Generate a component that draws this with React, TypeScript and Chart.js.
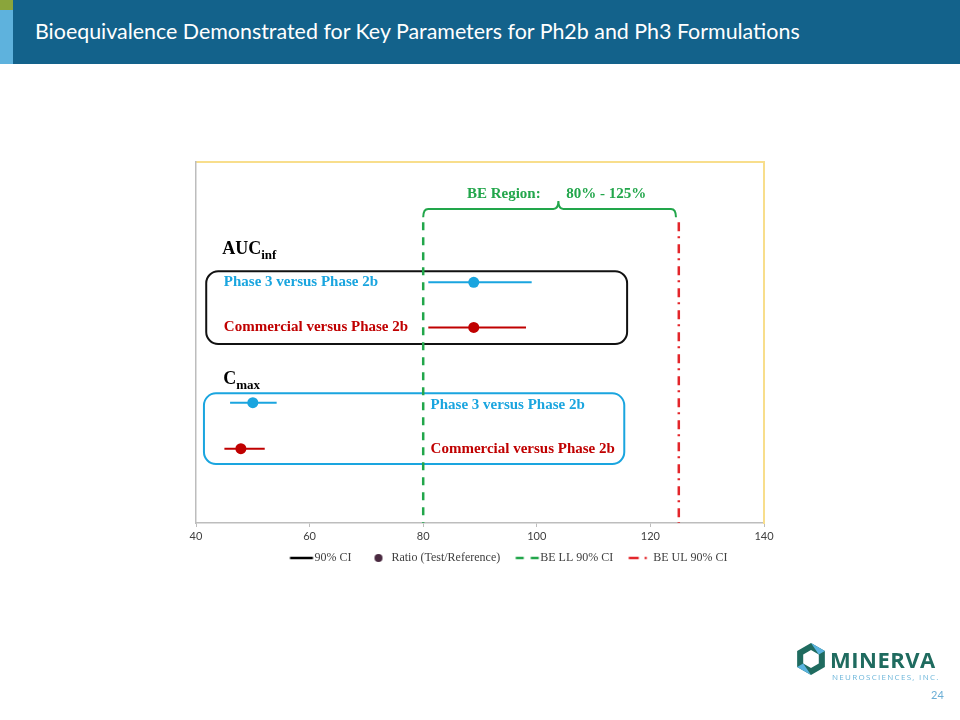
import React, { useEffect, useLayoutEffect, useRef } from 'react';
import { Chart, registerables } from 'chart.js';

Chart.register(...registerables);

// ---------- data ----------
const X_TICKS = [40, 60, 80, 100, 120, 140];
const ROW_NAMES = [
  'Phase 3 versus Phase 2b',
  'Commercial versus Phase 2b',
  'Phase 3 versus Phase 2b',
  'Commercial versus Phase 2b',
];
const ROW_Y = [8, 6.5, 4, 2.47];
const RATIO = [88.9, 88.9, 50.0, 47.9];
const CI_LOW = [80.9, 80.9, 46.0, 45.0];
const CI_HIGH = [99.1, 98.1, 54.2, 52.1];
const BE_LL = 80;
const BE_UL = 125;
const LEGEND_LABELS = ['90% CI', 'Ratio (Test/Reference)', 'BE LL 90% CI', 'BE UL 90% CI'];
const GROUP_TITLES = [
  { main: 'AUC', sub: 'inf' },
  { main: 'C', sub: 'max' },
];

// ---------- styling / annotation placement ----------
const BLUE = '#1aa5df';
const DARK_RED = '#c00000';
const GREEN = '#22a64b';
const RED_LINE = '#e3262b';
const AXIS_GREY = '#bdbdbd';
const YELLOW = '#f8de8c';
const SERIF = '"Liberation Serif", "Times New Roman", serif';
const ROW_COLORS = [BLUE, DARK_RED, BLUE, DARK_RED];
const ROW_LABEL_X = [44.9, 44.9, 81.3, 81.3];
const ROW_LABEL_DY = [0, 0, -0.08, -0.03];
const BE_TOP = 10;
const GROUP_TITLE_POS = [
  { x: 44.6, y: 8.94 },
  { x: 44.8, y: 4.62 },
];
const BOXES = [
  { x0: 41.8, x1: 115.9, y0: 8.37, y1: 5.95, color: '#111111' },
  { x0: 41.4, x1: 115.4, y0: 4.31, y1: 1.96, color: BLUE },
];

// legend icon canvas: wide transparent canvas, mark drawn offset to the right
const ICON_W = 38;
const ICON_MARK_CX = 25; // mark centre inside icon canvas

function makeIcon(kind: number): HTMLCanvasElement {
  const c = document.createElement('canvas');
  c.width = ICON_W;
  c.height = 10;
  const g = c.getContext('2d')!;
  g.lineWidth = 2.5;
  const x0 = ICON_MARK_CX - 11.5;
  const x1 = ICON_MARK_CX + 11.5;
  if (kind === 0) {
    g.strokeStyle = '#000';
    g.beginPath();
    g.moveTo(x0, 5);
    g.lineTo(x1, 5);
    g.stroke();
  } else if (kind === 1) {
    g.fillStyle = '#4a2a40';
    g.beginPath();
    g.arc(ICON_MARK_CX, 5, 4, 0, Math.PI * 2);
    g.fill();
  } else if (kind === 2) {
    g.strokeStyle = GREEN;
    g.setLineDash([8, 7]);
    g.beginPath();
    g.moveTo(x0, 5);
    g.lineTo(x1, 5);
    g.stroke();
  } else {
    g.strokeStyle = RED_LINE;
    g.setLineDash([10, 6, 2, 10]);
    g.beginPath();
    g.moveTo(x0, 5);
    g.lineTo(x1, 5);
    g.stroke();
  }
  return c;
}

const annotationPlugin = {
  id: 'beAnnotations',
  beforeDatasetsDraw(chart: any) {
    const { ctx, scales } = chart;
    const x = scales.x;
    const y = scales.y;
    ctx.save();
    BOXES.forEach((b) => {
      const px0 = x.getPixelForValue(b.x0);
      const px1 = x.getPixelForValue(b.x1);
      const py0 = y.getPixelForValue(b.y0);
      const py1 = y.getPixelForValue(b.y1);
      ctx.beginPath();
      ctx.roundRect(px0, py0, px1 - px0, py1 - py0, 12);
      ctx.lineWidth = 2;
      ctx.strokeStyle = b.color;
      ctx.stroke();
    });
    ctx.restore();
  },
  afterDatasetsDraw(chart: any) {
    const { ctx, scales } = chart;
    const x = scales.x;
    const y = scales.y;
    ctx.save();
    // row labels
    ctx.font = `bold 15px ${SERIF}`;
    ctx.textBaseline = 'middle';
    ctx.textAlign = 'left';
    ROW_NAMES.forEach((name, i) => {
      ctx.fillStyle = ROW_COLORS[i];
      ctx.fillText(name, x.getPixelForValue(ROW_LABEL_X[i]), y.getPixelForValue(ROW_Y[i] + ROW_LABEL_DY[i]));
    });
    // group titles
    ctx.fillStyle = '#000';
    ctx.textBaseline = 'alphabetic';
    GROUP_TITLES.forEach((t, i) => {
      const px = x.getPixelForValue(GROUP_TITLE_POS[i].x);
      const py = y.getPixelForValue(GROUP_TITLE_POS[i].y);
      ctx.font = `bold 18px ${SERIF}`;
      ctx.fillText(t.main, px, py);
      const w = ctx.measureText(t.main).width;
      ctx.font = `bold 13px ${SERIF}`;
      ctx.fillText(t.sub, px + w, py + 5);
    });
    // BE region bracket
    const xl = x.getPixelForValue(BE_LL);
    const xr = x.getPixelForValue(124.5);
    const xc = x.getPixelForValue(103.8);
    const yh = y.getPixelForValue(10.44);
    const ye = y.getPixelForValue(10.16);
    const yc = y.getPixelForValue(10.7);
    const r = 5;
    ctx.strokeStyle = GREEN;
    ctx.lineWidth = 2;
    ctx.beginPath();
    ctx.moveTo(xl, ye);
    ctx.quadraticCurveTo(xl, yh, xl + r, yh);
    ctx.lineTo(xc - r, yh);
    ctx.quadraticCurveTo(xc, yh, xc, yc);
    ctx.quadraticCurveTo(xc, yh, xc + r, yh);
    ctx.lineTo(xr - r, yh);
    ctx.quadraticCurveTo(xr, yh, xr, ye);
    ctx.stroke();
    ctx.fillStyle = GREEN;
    ctx.font = `bold 15px ${SERIF}`;
    ctx.textBaseline = 'middle';
    ctx.fillText('BE Region:', x.getPixelForValue(87.7), y.getPixelForValue(10.94));
    ctx.fillText('80% - 125%', x.getPixelForValue(105.2), y.getPixelForValue(10.94));
    ctx.restore();
  },
};

function HexIcon() {
  const cx = 16, cy = 16, R = 16, r = 9;
  const pt = (rad: number, a: number) => `${cx + rad * Math.cos(a)},${cy + rad * Math.sin(a)}`;
  const outer: string[] = [];
  const inner: string[] = [];
  for (let i = 0; i < 6; i++) {
    const a = -Math.PI / 2 + (i * Math.PI) / 3;
    outer.push(pt(R, a));
    inner.push(pt(r, a));
  }
  const d = `M${outer.join('L')}Z M${inner.join('L')}Z`;
  return (
    <svg width={32} height={32} viewBox="0 0 32 32" style={{ position: 'absolute', left: 795, top: 643 }}>
      <path d={d} fill="#1f6b5f" fillRule="evenodd" />
      <polygon points={`${pt(R, -Math.PI / 2)} ${pt(R, -Math.PI / 6)} ${pt(r, -Math.PI / 6)}`} fill="#5ab4e0" />
      <polygon points={`${pt(R, Math.PI / 2)} ${pt(R, (5 * Math.PI) / 6)} ${pt(r, (5 * Math.PI) / 6)}`} fill="#5ab4e0" />
    </svg>
  );
}

export default function App() {
  const canvasRef = useRef<HTMLCanvasElement>(null);
  const titleRef = useRef<HTMLSpanElement>(null);

  useLayoutEffect(() => {
    const el = titleRef.current;
    if (!el) return;
    const w = el.getBoundingClientRect().width;
    if (w > 0) el.style.fontSize = `${(22 * 765) / w}px`;
  }, []);

  useEffect(() => {
    const canvas = canvasRef.current;
    if (!canvas) return;
    const icons = [0, 1, 2, 3].map(makeIcon);
    const ciDatasets = ROW_Y.map((yv, i) => ({
      label: `CI ${i}`,
      data: [
        { x: CI_LOW[i], y: yv },
        { x: CI_HIGH[i], y: yv },
      ],
      showLine: true,
      borderColor: ROW_COLORS[i],
      backgroundColor: ROW_COLORS[i],
      borderWidth: 2,
      pointRadius: 0,
    }));
    const chart = new Chart(canvas, {
      type: 'scatter',
      data: {
        datasets: [
          ...ciDatasets,
          {
            label: 'Ratio (Test/Reference)',
            data: ROW_Y.map((yv, i) => ({ x: RATIO[i], y: yv })),
            showLine: false,
            pointRadius: 5.5,
            pointBackgroundColor: ROW_COLORS,
            pointBorderWidth: 0,
          },
          {
            label: 'BE LL 90% CI',
            data: [
              { x: BE_LL, y: BE_TOP },
              { x: BE_LL, y: 0 },
            ],
            showLine: true,
            borderColor: GREEN,
            borderDash: [8, 7],
            borderWidth: 2.5,
            pointRadius: 0,
          },
          {
            label: 'BE UL 90% CI',
            data: [
              { x: BE_UL, y: BE_TOP },
              { x: BE_UL, y: 0 },
            ],
            showLine: true,
            borderColor: RED_LINE,
            borderDash: [9, 5, 2, 6],
            borderWidth: 2.5,
            pointRadius: 0,
          },
        ],
      } as any,
      options: {
        animation: false,
        responsive: false,
        events: [],
        layout: { padding: { left: 196, right: 146, top: 162, bottom: 146 } },
        scales: {
          x: {
            type: 'linear',
            min: 40,
            max: 140,
            afterBuildTicks: (s: any) => {
              s.ticks = X_TICKS.map((v) => ({ value: v }));
            },
            afterFit: (s: any) => {
              s.height = 21;
            },
            ticks: {
              color: '#404040',
              font: { family: 'Lato, "Liberation Sans", sans-serif', size: 11 },
              padding: 3,
              maxRotation: 0,
            },
            grid: { display: true, drawOnChartArea: false, drawTicks: true, tickLength: 4, color: AXIS_GREY },
            border: { color: AXIS_GREY, width: 1.5 },
          },
          x2: {
            type: 'linear',
            position: 'top',
            min: 40,
            max: 140,
            ticks: { display: false },
            grid: { display: false, drawTicks: false },
            border: { color: YELLOW, width: 2 },
            afterFit: (s: any) => {
              s.height = 0;
            },
          },
          y: {
            type: 'linear',
            min: 0,
            max: 12,
            ticks: { display: false },
            grid: { display: false, drawTicks: false },
            border: { color: AXIS_GREY, width: 1.5 },
            afterFit: (s: any) => {
              s.width = 0;
            },
          },
          y2: {
            type: 'linear',
            position: 'right',
            min: 0,
            max: 12,
            ticks: { display: false },
            grid: { display: false, drawTicks: false },
            border: { color: YELLOW, width: 2 },
            afterFit: (s: any) => {
              s.width = 50;
            },
          },
        } as any,
        plugins: {
          tooltip: { enabled: false },
          legend: {
            position: 'bottom',
            onClick: () => {},
            labels: {
              usePointStyle: true,
              pointStyleWidth: 26,
              padding: 8,
              color: '#404040',
              font: { family: SERIF, size: 12 },
              generateLabels: () =>
                LEGEND_LABELS.map((t, i) => ({
                  text: t,
                  pointStyle: icons[i] as any,
                  fillStyle: 'rgba(0,0,0,0)',
                  strokeStyle: 'rgba(0,0,0,0)',
                  lineWidth: 0,
                  hidden: false,
                  datasetIndex: i,
                  fontColor: '#404040',
                })),
            },
          },
        },
      } as any,
      plugins: [annotationPlugin],
    });
    return () => chart.destroy();
  }, []);

  return (
    <div style={{ position: 'absolute', left: 0, top: 0, width: 960, height: 720, background: '#fff', overflow: 'hidden' }}>
      <div style={{ position: 'absolute', left: 0, top: 0, width: 960, height: 64, background: '#13628b' }} />
      <div style={{ position: 'absolute', left: 0, top: 0, width: 13, height: 10, background: '#8aa53b' }} />
      <div style={{ position: 'absolute', left: 0, top: 10, width: 13, height: 54, background: '#5eb2dd' }} />
      <div
        style={{
          position: 'absolute',
          left: 35,
          top: 0,
          height: 61,
          display: 'flex',
          alignItems: 'center',
          whiteSpace: 'nowrap',
        }}
      >
        <span ref={titleRef} style={{ fontFamily: 'Lato, "Open Sans", sans-serif', fontSize: 22, color: '#fff' }}>
          Bioequivalence Demonstrated for Key Parameters for Ph2b and Ph3 Formulations
        </span>
      </div>
      <canvas
        ref={canvasRef}
        width={960}
        height={720}
        style={{ position: 'absolute', left: 0, top: 0, width: 960, height: 720 }}
      />
      <HexIcon />
      <div
        style={{
          position: 'absolute',
          left: 830,
          top: 644,
          fontFamily: '"Open Sans", "Noto Sans", sans-serif',
          fontWeight: 700,
          fontSize: 22,
          letterSpacing: 0.5,
          color: '#1f6b5f',
          lineHeight: '30px',
          whiteSpace: 'nowrap',
        }}
      >
        MINERVA
      </div>
      <div
        style={{
          position: 'absolute',
          left: 832,
          top: 672,
          fontFamily: '"Open Sans", "Noto Sans", sans-serif',
          fontSize: 8,
          letterSpacing: 1.3,
          color: '#6db6da',
          lineHeight: '10px',
          whiteSpace: 'nowrap',
        }}
      >
        NEUROSCIENCES, INC.
      </div>
      <div
        style={{
          position: 'absolute',
          left: 931,
          top: 688,
          fontFamily: 'Lato, "Open Sans", sans-serif',
          fontSize: 11,
          color: '#6aaed6',
          lineHeight: '14px',
        }}
      >
        24
      </div>
    </div>
  );
}
